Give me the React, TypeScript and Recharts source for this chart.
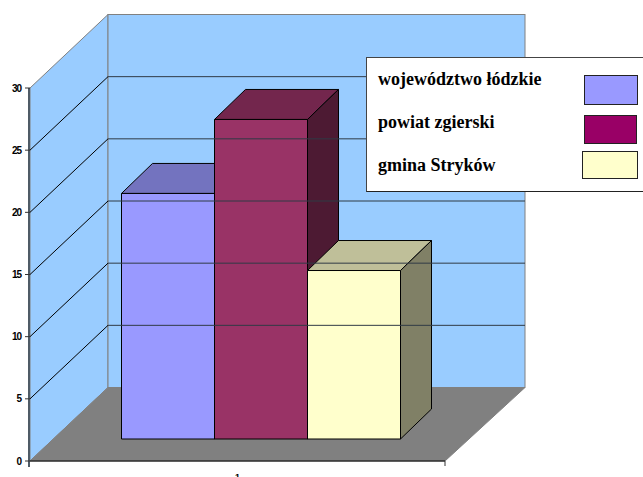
// Pseudo-3D column chart: walls, floor and bars are all hung off the Recharts scales
import React from 'react';
import { BarChart, Bar, XAxis, YAxis, Legend, ReferenceArea, ReferenceLine } from 'recharts';

const categories = ['1'];
const seriesNames = ['województwo łódzkie', 'powiat zgierski', 'gmina Stryków'];
const seriesValues = [19.75, 25.7, 13.55];
const yTicks = [0, 5, 10, 15, 20, 25, 30];

const FRONT_COLORS = ['#9999FF', '#993366', '#FFFFCC'];
const TOP_COLORS = ['#7373BF', '#73264D', '#BFBF99'];
const SIDE_COLORS = ['#4D4D80', '#4D1A33', '#808066'];
const LEGEND_COLORS = ['#9999FF', '#990066', '#FFFFCC'];

const data = categories.map((name) => {
  const row: Record<string, string | number> = { name };
  seriesNames.forEach((s, i) => {
    row[s] = seriesValues[i];
  });
  return row;
});

// wall depth and bar placement inside that depth
const DEPTH_X = 78;
const DEPTH_Y = 73.5;
const SHIFT_X = 23;
const SHIFT_Y = 22;
const BAR_DX = 31;
const BAR_DY = 30;

const poly = (pts: number[][]) => pts.map((p) => p.join(',')).join(' ');

const Walls = ({ x, y, width, height }: any) => {
  const bottom = y + height;
  const right = x + width;
  return (
    <g>
      <polygon
        points={poly([[x, y], [x + DEPTH_X, y - DEPTH_Y], [x + DEPTH_X, bottom - DEPTH_Y], [x, bottom]])}
        fill="#99CCFF"
        stroke="#808080"
      />
      <rect x={x + DEPTH_X} y={y - DEPTH_Y} width={width + 2} height={height} fill="#99CCFF" stroke="#808080" />
      <polygon
        points={poly([[x, bottom], [x + DEPTH_X, bottom - DEPTH_Y], [right + DEPTH_X + 2, bottom - DEPTH_Y], [right, bottom]])}
        fill="#808080"
        stroke="#808080"
      />
      <line x1={x - 1} y1={y} x2={x - 1} y2={bottom + 6} stroke="#4F5B66" strokeWidth={2} />
      <line x1={x} y1={bottom} x2={right} y2={bottom} stroke="#000" strokeWidth={1.2} />
      <line x1={right} y1={bottom} x2={right} y2={bottom + 5} stroke="#333" />
    </g>
  );
};

const GridLine3D = ({ x1, y1, x2, y2 }: any) => (
  <g>
    <line x1={x1} y1={y1} x2={x1 + DEPTH_X} y2={y1 - DEPTH_Y} stroke="#000" strokeWidth={1} />
    <line x1={x1 + DEPTH_X} y1={y1 - DEPTH_Y} x2={x2 + DEPTH_X + 2} y2={y2 - DEPTH_Y} stroke="#2F3A45" strokeWidth={1} />
  </g>
);

const Bar3D = ({ x, y, width, height, index }: any) => {
  const left = x + SHIFT_X;
  const top = y - SHIFT_Y;
  const right = left + width;
  const bottom = top + height;
  return (
    <g stroke="#000" strokeWidth={1} strokeLinejoin="round">
      <polygon
        points={poly([[left, top], [left + BAR_DX, top - BAR_DY], [right + BAR_DX, top - BAR_DY], [right, top]])}
        fill={TOP_COLORS[index]}
      />
      <polygon
        points={poly([[right, top], [right + BAR_DX, top - BAR_DY], [right + BAR_DX, bottom - BAR_DY], [right, bottom]])}
        fill={SIDE_COLORS[index]}
      />
      <rect x={left} y={top} width={width} height={height} fill={FRONT_COLORS[index]} />
    </g>
  );
};

const swatches = [
  { top: 17, left: 217, width: 54, height: 30 },
  { top: 57, left: 217, width: 53, height: 29 },
  { top: 93, left: 215, width: 56, height: 28 },
];

const LegendBox = () => (
  <div
    style={{
      position: 'absolute',
      left: 0,
      top: 0,
      width: 277,
      height: 135,
      background: '#fff',
      borderTop: '1px solid #444',
      borderLeft: '1px solid #444',
      borderBottom: '1px solid #222',
      boxSizing: 'border-box',
      fontFamily: '"Liberation Serif", serif',
      fontWeight: 700,
      fontSize: 18,
      color: '#000',
    }}
  >
    {seriesNames.map((name, i) => (
      <React.Fragment key={name}>
        <span style={{ position: 'absolute', left: 11, top: 11 + i * 43, whiteSpace: 'nowrap' }}>{name}</span>
        <span
          style={{
            position: 'absolute',
            boxSizing: 'border-box',
            border: '1px solid #222',
            background: LEGEND_COLORS[i],
            ...swatches[i],
          }}
        />
      </React.Fragment>
    ))}
  </div>
);

export default function App() {
  return (
    <div style={{ position: 'absolute', left: 0, top: 0, width: 643, height: 477, overflow: 'hidden', background: '#fff' }}>
      <BarChart
        width={643}
        height={477}
        data={data}
        margin={{ top: 88, right: 198, bottom: 0, left: 0 }}
        barCategoryGap={68.5}
        barGap={0}
      >
        <ReferenceArea y1={0} y2={30} shape={<Walls />} ifOverflow="visible" />
        {yTicks.slice(1, -1).map((t) => (
          <ReferenceLine key={t} y={t} shape={<GridLine3D />} ifOverflow="visible" />
        ))}
        <XAxis
          dataKey="name"
          height={16}
          axisLine={false}
          tickLine={false}
          tick={{ fontSize: 9, fontWeight: 700, fill: '#000', fontFamily: '"Liberation Sans", sans-serif' }}
          tickMargin={7}
        />
        <YAxis
          width={30}
          domain={[0, 30]}
          ticks={yTicks}
          axisLine={false}
          tickSize={5}
          tickMargin={4}
          tickLine={{ stroke: '#333' }}
          tick={{
            fontSize: 10,
            fontWeight: 700,
            letterSpacing: -1,
            fill: '#000',
            fontFamily: '"Liberation Sans", sans-serif',
          }}
        />
        <Legend
          content={<LegendBox />}
          wrapperStyle={{ position: 'absolute', left: 366, top: 57, width: 277, height: 0 }}
        />
        {seriesNames.map((name, i) => (
          <Bar
            key={name}
            dataKey={name}
            fill={FRONT_COLORS[i]}
            isAnimationActive={false}
            shape={(props: any) => <Bar3D {...props} index={i} />}
          />
        ))}
      </BarChart>
    </div>
  );
}
